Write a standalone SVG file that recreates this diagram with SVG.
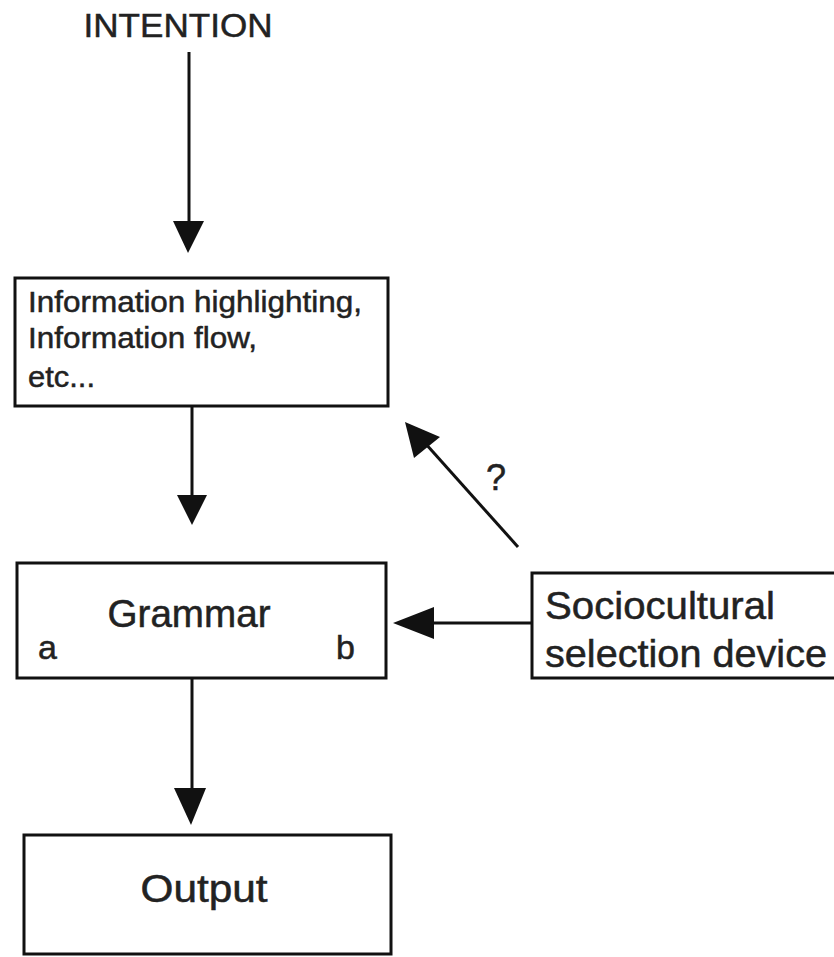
<svg xmlns="http://www.w3.org/2000/svg" width="834" height="957" viewBox="0 0 834 957">
<style>
.box{fill:#fff;stroke:#111;stroke-width:3}
.ln{stroke:#111;stroke-width:3;fill:none}
.hd{fill:#111}
text{font-family:"Liberation Sans",Arial,sans-serif;fill:#222;stroke:#222;stroke-width:0.5}
</style>
<rect width="834" height="957" fill="#fff"/>
<g id="intention"><text x="178" y="37" font-size="34" text-anchor="middle" textLength="189" lengthAdjust="spacingAndGlyphs">INTENTION</text></g>
<g id="info">
<rect class="box" x="15" y="278" width="373" height="128"/>
<text x="28" y="312" font-size="30" textLength="334" lengthAdjust="spacingAndGlyphs">Information highlighting,</text>
<text x="28" y="348" font-size="30" textLength="229" lengthAdjust="spacingAndGlyphs">Information flow,</text>
<text x="28" y="387" font-size="30" textLength="67" lengthAdjust="spacingAndGlyphs">etc...</text>
</g>
<g id="grammar">
<rect class="box" x="17" y="563" width="369" height="115"/>
<text x="189" y="627" font-size="38" text-anchor="middle" textLength="163" lengthAdjust="spacingAndGlyphs">Grammar</text>
<text x="38" y="659" font-size="34">a</text>
<text x="336" y="659" font-size="34">b</text>
</g>
<g id="output">
<rect class="box" x="24" y="835" width="367" height="119"/>
<text x="204" y="902" font-size="38" text-anchor="middle" textLength="127" lengthAdjust="spacingAndGlyphs">Output</text>
</g>
<g id="socio">
<rect class="box" x="532" y="573" width="310" height="105"/>
<text x="545" y="619" font-size="38" textLength="230" lengthAdjust="spacingAndGlyphs">Sociocultural</text>
<text x="545" y="667" font-size="38" textLength="282" lengthAdjust="spacingAndGlyphs">selection device</text>
</g>
<g id="connectors">
<line class="ln" x1="189" y1="52" x2="189" y2="225"/>
<polygon class="hd" points="173,221 204,221 188,253"/>
<line class="ln" x1="192" y1="406" x2="192" y2="498"/>
<polygon class="hd" points="177,495 207,495 192,525"/>
<line class="ln" x1="192" y1="678" x2="192" y2="790"/>
<polygon class="hd" points="174,788 206,788 191,825"/>
<line class="ln" x1="532" y1="623" x2="430" y2="623"/>
<polygon class="hd" points="393,623 434,607 434,639"/>
<line class="ln" x1="518" y1="547" x2="425" y2="443"/>
<polygon class="hd" points="405,422 440,437 414,458"/>
<text x="486" y="490" font-size="36">?</text>
</g>
</svg>
